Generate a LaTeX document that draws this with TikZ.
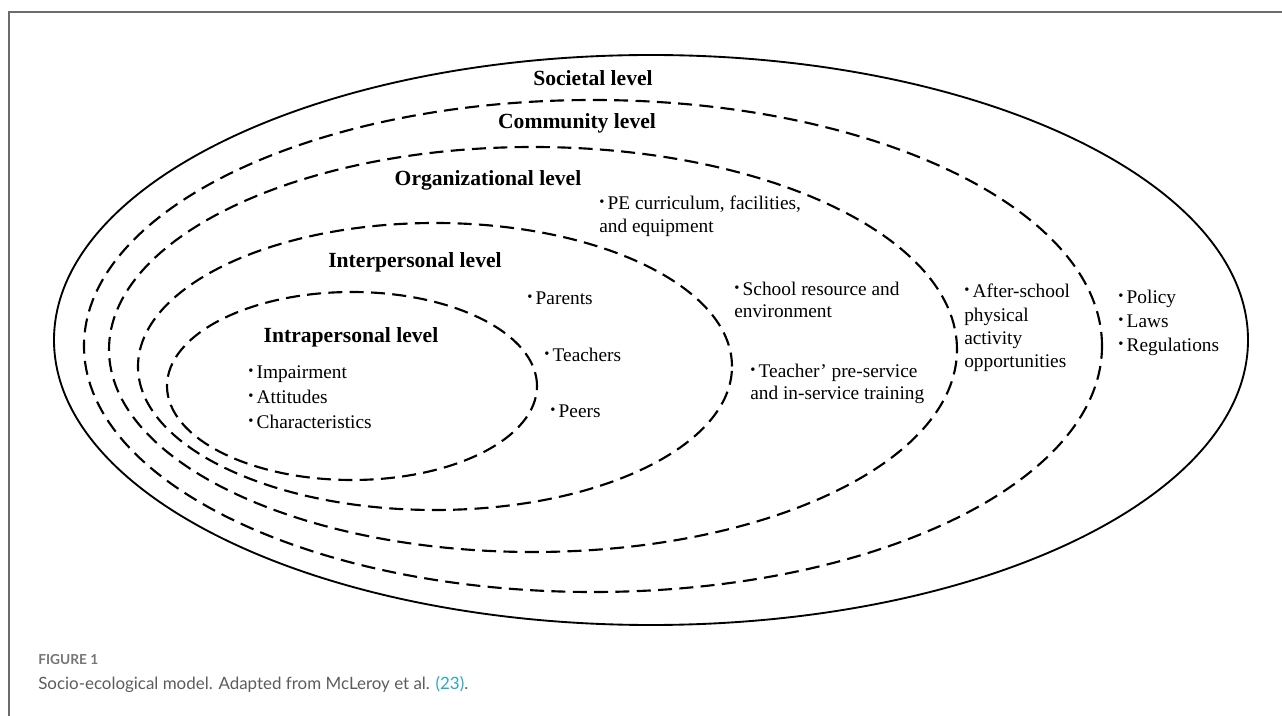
\documentclass[tikz,border=0pt]{standalone}
\usepackage{fontspec}
\setmainfont{Liberation Serif}
\newfontfamily\capfont{Lato}
\usetikzlibrary{positioning,shapes}
\definecolor{framegray}{HTML}{6B6B6B}
\definecolor{capgray}{HTML}{5C5C5C}
\definecolor{reflink}{HTML}{2AA8C4}
\newcommand*{\bul}{\raisebox{0.35ex}{\fontsize{11}{11}\selectfont\textbullet}\hspace{2.5pt}}

\begin{document}
\begin{tikzpicture}[x=0.75pt,y=-0.75pt]
	\tikzstyle{ring}=[ellipse, draw=black, line width=1.6pt, dash pattern=on 10.5pt off 5.5pt, inner sep=0pt]
	\tikzstyle{outerring}=[ellipse, draw=black, line width=1.4pt, inner sep=0pt]
	\tikzstyle{heading}=[font=\fontsize{16.2}{19}\selectfont\bfseries, inner sep=0pt]
	\tikzstyle{entry}=[font=\fontsize{14.5}{17.5}\selectfont, align=left, anchor=west, inner sep=0pt]
	\useasboundingbox (0,0) rectangle (1282,716);
	\draw[framegray, line width=0.8pt] (9,716) |- (1282,12);

	% levels, outside in
	\node (Societal) [outerring, minimum width=895.5pt, minimum height=427.5pt] at (651,340) {};
	\node (Community) [ring, minimum width=763.5pt, minimum height=369pt] at (593,346) {};
	\node (Organizational) [ring, minimum width=636pt, minimum height=303.75pt] at (533,349.5) {};
	\node (Interpersonal) [ring, minimum width=445.5pt, minimum height=215.25pt] at (435,366.5) {};
	\node (Intrapersonal) [ring, minimum width=277.5pt, minimum height=141pt] at (352,386) {};

	\node (SocietalTitle) [heading] at (593,78) {Societal level};
	\node (CommunityTitle) [heading] at (577,123) {Community level};
	\node (OrganizationalTitle) [heading] at (488,180) {Organizational level};
	\node (InterpersonalTitle) [heading] at (415,262) {Interpersonal level};
	\node (IntrapersonalTitle) [heading] at (351,337) {Intrapersonal level};

	\node (intraItems) [entry, font=\fontsize{14.5}{18.75}\selectfont] at (248,397)
	{\bul Impairment\\ \bul Attitudes\\ \bul Characteristics};
	\node (parents) [entry] at (527,298) {\bul Parents};
	\node (teachers) [entry] at (544,355) {\bul Teachers};
	\node (peers) [entry] at (550,411) {\bul Peers};
	\node (curriculum) [entry, font=\fontsize{14.5}{17}\selectfont] at (599,216)
	{\bul PE curriculum, facilities,\\and equipment};
	\node (resource) [entry, font=\fontsize{14.5}{17}\selectfont] at (734,300)
	{\bul School resource and\\environment};
	\node (training) [entry, font=\fontsize{14.5}{17}\selectfont] at (750,384)
	{\bul Teacher’ pre-service\\and in-service training};
	\node (afterschool) [entry] at (964,328)
	{\bul After-school\\physical\\activity\\opportunities};
	\node (policy) [entry, font=\fontsize{14.5}{18}\selectfont] at (1118,323)
	{\bul Policy\\ \bul Laws\\ \bul Regulations};

	\node (figlabel) [anchor=west, inner sep=0pt, text=capgray!85, font=\capfont\fontsize{10.3}{12}\selectfont\bfseries] at (38,660) {FIGURE 1};
	\node (caption) [anchor=west, inner sep=0pt, text=capgray, font=\capfont\fontsize{12.7}{15}\selectfont] at (38,684)
	{Socio-ecological model. Adapted from McLeroy et al. \textcolor{reflink}{(23)}.};
\end{tikzpicture}
\end{document}
